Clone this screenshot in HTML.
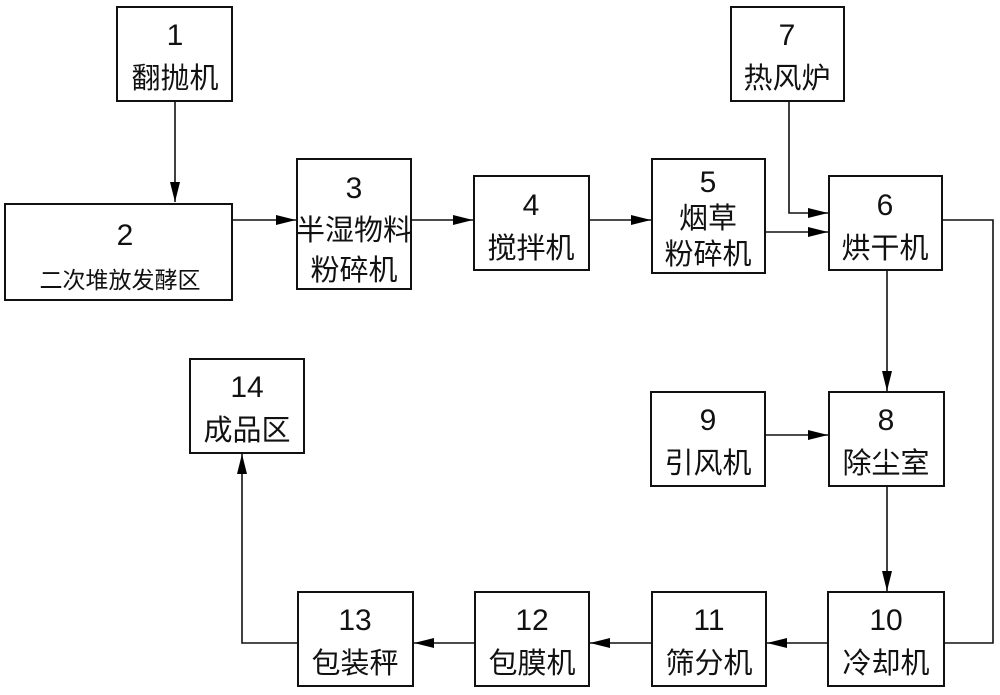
<!DOCTYPE html>
<html><head><meta charset="utf-8"><style>
html,body{margin:0;padding:0;background:#fff;}
svg text{font-family:"Liberation Sans","Noto Sans CJK SC",sans-serif;fill:#111;text-anchor:middle;}
.n{font-size:30px;}
.c{font-size:29px;}
</style></head><body>
<svg width="1000" height="690" viewBox="0 0 1000 690" xmlns="http://www.w3.org/2000/svg">
<defs><marker id="a" viewBox="0 0 20 10" refX="20" refY="5" markerWidth="20" markerHeight="10" markerUnits="userSpaceOnUse" orient="auto"><path d="M0,0 L20,5 L0,10 z" fill="#000"/></marker></defs>
<g fill="none" stroke="#111" stroke-width="2">
<rect x="117" y="7" width="115" height="94"/>
<rect x="5" y="204" width="227" height="96"/>
<rect x="297" y="159" width="114" height="130"/>
<rect x="474" y="176" width="115" height="94"/>
<rect x="652" y="159" width="113" height="114"/>
<rect x="829" y="176" width="113" height="94"/>
<rect x="731" y="7" width="113" height="94"/>
<rect x="829" y="392" width="115" height="94"/>
<rect x="651" y="392" width="114" height="94"/>
<rect x="828" y="592" width="116" height="94"/>
<rect x="652" y="592" width="114" height="94"/>
<rect x="475" y="592" width="114" height="94"/>
<rect x="298" y="592" width="115" height="94"/>
<rect x="190" y="359" width="114" height="94"/>
</g>
<g stroke="#111" stroke-width="1.6" fill="none">
<line x1="175" y1="101" x2="175" y2="202" marker-end="url(#a)"/>
<line x1="232" y1="220" x2="296" y2="220" marker-end="url(#a)"/>
<line x1="411" y1="220" x2="473" y2="220" marker-end="url(#a)"/>
<line x1="589" y1="220" x2="651" y2="220" marker-end="url(#a)"/>
<line x1="765" y1="232" x2="828" y2="232" marker-end="url(#a)"/>
<polyline points="789,101 789,213 828,213" marker-end="url(#a)"/>
<line x1="887" y1="270" x2="887" y2="391" marker-end="url(#a)"/>
<line x1="765" y1="435" x2="828" y2="435" marker-end="url(#a)"/>
<line x1="887" y1="486" x2="887" y2="591" marker-end="url(#a)"/>
<polyline points="942,220 993,220 993,643 944,643"/>
<line x1="828" y1="643" x2="767" y2="643" marker-end="url(#a)"/>
<line x1="652" y1="643" x2="590" y2="643" marker-end="url(#a)"/>
<line x1="475" y1="643" x2="414" y2="643" marker-end="url(#a)"/>
<polyline points="298,643 242,643 242,454" marker-end="url(#a)"/>
</g>
<text class="n" x="175" y="45">1</text><text class="c" x="175" y="88">翻抛机</text>
<text class="n" x="125" y="245">2</text><text x="120" y="288" style="font-size:23px">二次堆放发酵区</text>
<text class="n" x="354" y="198">3</text><text class="c" x="354" y="240">半湿物料</text><text class="c" x="354" y="280">粉碎机</text>
<text class="n" x="531" y="215">4</text><text class="c" x="531" y="258">搅拌机</text>
<text class="n" x="708" y="192">5</text><text class="c" x="708" y="228">烟草</text><text class="c" x="708" y="264">粉碎机</text>
<text class="n" x="885" y="215">6</text><text class="c" x="885" y="258">烘干机</text>
<text class="n" x="787" y="45">7</text><text class="c" x="787" y="88">热风炉</text>
<text class="n" x="886" y="430">8</text><text class="c" x="886" y="473">除尘室</text>
<text class="n" x="708" y="430">9</text><text class="c" x="708" y="473">引风机</text>
<text class="n" x="886" y="630">10</text><text class="c" x="886" y="673">冷却机</text>
<text class="n" x="709" y="630">11</text><text class="c" x="709" y="673">筛分机</text>
<text class="n" x="532" y="630">12</text><text class="c" x="532" y="673">包膜机</text>
<text class="n" x="355" y="630">13</text><text class="c" x="355" y="673">包装秤</text>
<text class="n" x="247" y="397">14</text><text class="c" x="247" y="440">成品区</text>
</svg>
</body></html>
